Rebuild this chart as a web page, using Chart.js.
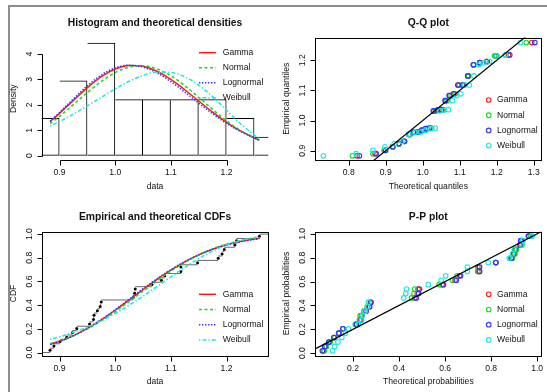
<!DOCTYPE html>
<html><head><meta charset="utf-8">
<script src="https://cdn.jsdelivr.net/npm/chart.js@4.4.0/dist/chart.umd.min.js"></script>
<style>
html,body{margin:0;padding:0;background:#fff;}
#wrap{position:relative;width:547px;height:392px;overflow:hidden;background:#fff;}
#wrap canvas{position:absolute;left:0;top:0;}
#frame{position:absolute;left:8px;top:5px;width:600px;height:420px;border-top:2px solid #8c8c8c;border-left:2px solid #8c8c8c;}
</style></head><body>
<div id="wrap"><div id="frame"></div>
<canvas id="c1" width="547" height="392"></canvas>
<canvas id="c2" width="547" height="392"></canvas>
<canvas id="c3" width="547" height="392"></canvas>
<canvas id="c4" width="547" height="392"></canvas>
</div>
<script>
// ---------- data ----------
const seriesNames = ['Gamma', 'Normal', 'Lognormal', 'Weibull'];
const sortedData = [0.883,0.890,0.901,0.913,0.923,0.931,0.954,0.961,0.962,0.968,0.973,0.975,1.032,1.035,1.036,1.066,1.083,1.089,1.118,1.118,1.148,1.185,1.192,1.196,1.215,1.218,1.259];
const histBreaks = [0.85,0.90,0.95,1.00,1.05,1.10,1.15,1.20,1.25,1.30];
const histDensity = [1.481,2.963,4.444,2.222,2.222,2.222,2.222,1.481,0.741];

const gridX = [0.883,0.900,0.925,0.950,0.975,1.000,1.025,1.050,1.075,1.100,1.125,1.150,1.175,1.200,1.225,1.259];
const densGamma     = [1.339,1.666,2.178,2.678,3.108,3.411,3.553,3.519,3.324,3.000,2.594,2.151,1.713,1.315,0.973,0.610];
const densNormal    = [1.260,1.547,2.008,2.482,2.919,3.269,3.485,3.536,3.417,3.142,2.752,2.294,1.820,1.375,0.989,0.583];
const densLognormal = [1.350,1.698,2.237,2.750,3.174,3.454,3.559,3.486,3.257,2.913,2.501,2.067,1.648,1.271,0.951,0.611];
const densWeibull   = [1.165,1.345,1.638,1.960,2.296,2.628,2.927,3.159,3.287,3.277,3.108,2.780,2.322,1.790,1.258,0.651];

const cdfGamma     = [0.0702,0.0955,0.1432,0.2036,0.2756,0.3570,0.4438,0.5319,0.6173,0.6961,0.7656,0.8246,0.8725,0.9100,0.9383,0.9647];
const cdfNormal    = [0.0753,0.0991,0.1435,0.1996,0.2673,0.3448,0.4296,0.5177,0.6050,0.6872,0.7611,0.8243,0.8757,0.9155,0.9449,0.9712];
const cdfLognormal = [0.0667,0.0926,0.1418,0.2042,0.2785,0.3617,0.4497,0.5381,0.6227,0.7000,0.7678,0.8249,0.8713,0.9077,0.9353,0.9615];
const cdfWeibull   = [0.1115,0.1328,0.1700,0.2149,0.2681,0.3297,0.3993,0.4755,0.5563,0.6387,0.7188,0.7927,0.8567,0.9082,0.9462,0.9781];

const empProb  = [0.019,0.056,0.093,0.130,0.167,0.204,0.241,0.278,0.315,0.352,0.389,0.426,0.463,0.500,0.537,0.574,0.611,0.648,0.685,0.722,0.759,0.796,0.833,0.870,0.907,0.944,0.981];
const stepProb = [0.037,0.074,0.111,0.148,0.185,0.222,0.259,0.296,0.333,0.370,0.407,0.444,0.481,0.519,0.556,0.593,0.630,0.667,0.704,0.741,0.778,0.815,0.852,0.889,0.926,0.963,1.000];

const qqGamma     = [0.8225,0.8710,0.8982,0.9185,0.9354,0.9501,0.9633,0.9757,0.9874,0.9985,1.0094,1.0199,1.0304,1.0409,1.0515,1.0622,1.0731,1.0845,1.0964,1.1089,1.1225,1.1373,1.1541,1.1737,1.1980,1.2316,1.2949];
const qqNormal    = [0.8100,0.8655,0.8957,0.9179,0.9360,0.9517,0.9657,0.9786,0.9907,1.0022,1.0132,1.0239,1.0345,1.0450,1.0555,1.0661,1.0768,1.0878,1.0993,1.1114,1.1243,1.1383,1.1540,1.1721,1.1943,1.2245,1.2800];
const qqLognormal = [0.8288,0.8742,0.9000,0.9194,0.9356,0.9499,0.9627,0.9748,0.9862,0.9972,1.0078,1.0183,1.0287,1.0391,1.0497,1.0604,1.0714,1.0829,1.0949,1.1077,1.1216,1.1368,1.1541,1.1744,1.1998,1.2352,1.3030];
const qqWeibull   = [0.7315,0.8199,0.8655,0.8977,0.9229,0.9442,0.9626,0.9792,0.9942,1.0083,1.0214,1.0340,1.0460,1.0577,1.0691,1.0804,1.0916,1.1029,1.1143,1.1261,1.1383,1.1513,1.1653,1.1811,1.1996,1.2236,1.2645];

const ppGamma     = [0.0702,0.0800,0.0972,0.1188,0.1389,0.1566,0.2144,0.2340,0.2369,0.2545,0.2695,0.2757,0.4685,0.4791,0.4826,0.5871,0.6433,0.6624,0.7472,0.7472,0.8203,0.8887,0.8991,0.9047,0.9280,0.9313,0.9647];
const ppNormal    = [0.0753,0.0845,0.1007,0.1208,0.1395,0.1559,0.2097,0.2280,0.2307,0.2472,0.2615,0.2673,0.4541,0.4647,0.4682,0.5739,0.6320,0.6519,0.7414,0.7414,0.8196,0.8929,0.9039,0.9098,0.9343,0.9376,0.9712];
const ppLognormal = [0.0667,0.0767,0.0943,0.1165,0.1373,0.1556,0.2154,0.2356,0.2386,0.2567,0.2722,0.2785,0.4746,0.4853,0.4888,0.5929,0.6484,0.6671,0.7499,0.7499,0.8207,0.8870,0.8970,0.9025,0.9252,0.9284,0.9615];
const ppWeibull   = [0.1115,0.1199,0.1341,0.1512,0.1667,0.1801,0.2229,0.2373,0.2394,0.2524,0.2636,0.2681,0.4200,0.4290,0.4321,0.5269,0.5827,0.6025,0.6968,0.6968,0.7872,0.8789,0.8932,0.9009,0.9326,0.9369,0.9781];

const ticksDataX = [0.9, 1.0, 1.1, 1.2];
const ticksDensY = [0, 1, 2, 3, 4];
const ticksProbY = [0.0, 0.2, 0.4, 0.6, 0.8, 1.0];
const ticksQQX = [0.8, 0.9, 1.0, 1.1, 1.2, 1.3];
const ticksQQY = [0.9, 1.0, 1.1, 1.2];
const ticksPPX = [0.2, 0.4, 0.6, 0.8, 1.0];

// ---------- styling ----------
const W = 547, H = 392;
const colors = ['#ff1a1a', '#1ad81a', '#3333ff', '#1ae8e8'];
const dashes = [[], [3, 2.5], [1.4, 1.6], [1.4, 2, 4, 2]];
const LW = 1.5;
const FONT = '"Liberation Sans", Arial, Helvetica, sans-serif';
const fmt1 = v => v.toFixed(1);
const fmt0 = v => String(v);

const rAxes = {
  id: 'rAxes',
  afterDraw(chart, args, o) {
    const ctx = chart.ctx, a = chart.chartArea, xs = chart.scales.x, ys = chart.scales.y;
    const px = v => Math.round(v) + 0.5;
    ctx.save();
    ctx.strokeStyle = '#000'; ctx.lineWidth = 1; ctx.setLineDash([]);
    const L = px(a.left), B = px(a.bottom);
    if (o.box) {
      ctx.strokeRect(L, px(a.top), Math.round(a.right) - Math.round(a.left), Math.round(a.bottom) - Math.round(a.top));
    }
    const xp = o.xTicks.map(v => px(xs.getPixelForValue(v)));
    const yp = o.yTicks.map(v => px(ys.getPixelForValue(v)));
    ctx.beginPath();
    if (!o.box) {
      ctx.moveTo(xp[0], B); ctx.lineTo(xp[xp.length - 1], B);
      ctx.moveTo(L, yp[0]); ctx.lineTo(L, yp[yp.length - 1]);
    }
    xp.forEach(p => { ctx.moveTo(p, B); ctx.lineTo(p, B + 5); });
    yp.forEach(p => { ctx.moveTo(L, p); ctx.lineTo(L - 5, p); });
    ctx.stroke();

    ctx.fillStyle = '#111';
    ctx.font = '8.6px ' + FONT;
    ctx.textAlign = 'center'; ctx.textBaseline = 'middle';
    o.xTicks.forEach(v => ctx.fillText(o.xFmt(v), xs.getPixelForValue(v), a.bottom + 13));
    o.yTicks.forEach(v => {
      ctx.save(); ctx.translate(a.left - 12.5, ys.getPixelForValue(v)); ctx.rotate(-Math.PI / 2);
      ctx.fillText(o.yFmt(v), 0, 0); ctx.restore();
    });
    ctx.fillText(o.xlab, (a.left + a.right) / 2, a.bottom + 26.5);
    ctx.save(); ctx.translate(a.left - 28.5, (a.top + a.bottom) / 2); ctx.rotate(-Math.PI / 2);
    ctx.fillText(o.ylab, 0, 0); ctx.restore();

    ctx.font = 'bold 10.3px ' + FONT;
    ctx.fillText(o.title, (a.left + a.right) / 2, o.titleY);

    // legend
    const lg = o.legend;
    ctx.font = '8.6px ' + FONT;
    ctx.textAlign = 'left';
    seriesNames.forEach((nm, k) => {
      const y = lg.y0 + k * lg.dy;
      ctx.strokeStyle = colors[k];
      if (lg.kind === 'line') {
        ctx.lineWidth = LW; ctx.setLineDash(dashes[k]);
        ctx.beginPath(); ctx.moveTo(lg.x1, y); ctx.lineTo(lg.x2, y); ctx.stroke();
        ctx.setLineDash([]);
      } else {
        ctx.lineWidth = 1.1;
        ctx.beginPath(); ctx.arc(lg.cx, y, 2.3, 0, Math.PI * 2); ctx.stroke();
      }
      ctx.fillStyle = '#111';
      ctx.fillText(nm, lg.tx, y);
    });
    ctx.restore();
  }
};

function makeChart(id, type, datasets, xr, yr, area, axes) {
  return new Chart(document.getElementById(id), {
    type: type,
    data: { datasets: datasets },
    options: {
      responsive: false, animation: false, devicePixelRatio: 1, events: [],
      layout: { padding: { left: area[0], top: area[1], right: W - area[2], bottom: H - area[3] } },
      scales: {
        x: { type: 'linear', display: false, min: xr[0], max: xr[1], offset: false },
        y: { type: 'linear', display: false, min: yr[0], max: yr[1] }
      },
      plugins: { legend: { display: false }, tooltip: { enabled: false }, title: { display: false }, rAxes: axes }
    },
    plugins: [rAxes]
  });
}

const leftArea = [41.7, 268.3], rightArea = [315.3, 541.3];
const topArea = [37.5, 160], botArea = [231.5, 355.5];
const dataXR = [0.868, 1.275];

// ---------- panel 1: histogram & densities ----------
const densSeries = [densGamma, densNormal, densLognormal, densWeibull];
const binMid = histDensity.map((d, i) => (histBreaks[i] + histBreaks[i + 1]) / 2);
const ds1 = [{
  type: 'bar', data: binMid.map((m, i) => ({ x: m, y: histDensity[i] })),
  backgroundColor: 'rgba(0,0,0,0)', borderColor: '#000', borderWidth: 1, borderSkipped: 'left',
  barPercentage: 1, categoryPercentage: 1, inflateAmount: 0, order: 10, clip: 0
}].concat(densSeries.map((arr, k) => ({
  type: 'line', label: seriesNames[k], data: gridX.map((x, i) => ({ x: x, y: arr[i] })),
  borderColor: colors[k], borderDash: dashes[k], borderWidth: LW, pointRadius: 0,
  cubicInterpolationMode: 'monotone', fill: false, order: 4 - k
})));
makeChart('c1', 'bar', ds1, dataXR, [-0.17, 4.65],
  [leftArea[0], topArea[0], leftArea[1], topArea[1]],
  { box: false, xTicks: ticksDataX, yTicks: ticksDensY, xFmt: fmt1, yFmt: fmt0,
    xlab: 'data', ylab: 'Density', title: 'Histogram and theoretical densities', titleY: 22.7,
    legend: { kind: 'line', x1: 199, x2: 216, tx: 222.7, y0: 52.7, dy: 15 } });

// ---------- panel 2: Q-Q plot ----------
const qqSeries = [qqGamma, qqNormal, qqLognormal, qqWeibull];
const qqXR = [0.7097, 1.3205], qqYR = [0.869, 1.2757];
const ds2 = qqSeries.map((arr, k) => ({
  label: seriesNames[k], data: arr.map((q, i) => ({ x: q, y: sortedData[i] })),
  pointRadius: 2.3, pointBorderWidth: 1.1, pointBorderColor: colors[k], pointBackgroundColor: 'rgba(0,0,0,0)',
  showLine: false, order: 5 - k
})).concat([{
  data: [{ x: qqXR[0], y: qqXR[0] }, { x: qqXR[1], y: qqXR[1] }],
  showLine: true, borderColor: '#000', borderWidth: 1.2, pointRadius: 0, order: 0, clip: 0
}]);
makeChart('c2', 'scatter', ds2, qqXR, qqYR,
  [rightArea[0], topArea[0], rightArea[1], topArea[1]],
  { box: true, xTicks: ticksQQX, yTicks: ticksQQY, xFmt: fmt1, yFmt: fmt1,
    xlab: 'Theoretical quantiles', ylab: 'Empirical quantiles', title: 'Q-Q plot', titleY: 22.7,
    legend: { kind: 'point', cx: 488.7, tx: 497, y0: 100, dy: 15.2 } });

// ---------- panel 3: empirical and theoretical CDFs ----------
const cdfSeries = [cdfGamma, cdfNormal, cdfLognormal, cdfWeibull];
const n = sortedData.length;
const stepSeg = [{ x: dataXR[0], y: 0 }, { x: sortedData[0], y: 0 }, { x: sortedData[0], y: null }];
sortedData.forEach((x, i) => {
  const x2 = i < n - 1 ? sortedData[i + 1] : dataXR[1];
  stepSeg.push({ x: x, y: stepProb[i] }, { x: x2, y: stepProb[i] }, { x: x2, y: null });
});
const ds3 = [{
  data: stepSeg, showLine: true, spanGaps: false, borderColor: '#6a6a6a', borderWidth: 1, pointRadius: 0, order: 11, clip: 0
}, {
  data: sortedData.map((x, i) => ({ x: x, y: empProb[i] })), showLine: false,
  pointRadius: 1.5, pointBorderWidth: 0, pointBackgroundColor: '#000', order: 10
}].concat(cdfSeries.map((arr, k) => ({
  label: seriesNames[k], data: gridX.map((x, i) => ({ x: x, y: arr[i] })), showLine: true,
  borderColor: colors[k], borderDash: dashes[k], borderWidth: LW, pointRadius: 0,
  cubicInterpolationMode: 'monotone', order: 4 - k
})));
makeChart('c3', 'scatter', ds3, dataXR, [-0.025, 1.022],
  [leftArea[0], botArea[0], leftArea[1], botArea[1]],
  { box: true, xTicks: ticksDataX, yTicks: ticksProbY, xFmt: fmt1, yFmt: fmt1,
    xlab: 'data', ylab: 'CDF', title: 'Empirical and theoretical CDFs', titleY: 216.7,
    legend: { kind: 'line', x1: 199, x2: 216, tx: 222.7, y0: 294.3, dy: 15.2 } });

// ---------- panel 4: P-P plot ----------
const ppSeries = [ppGamma, ppNormal, ppLognormal, ppWeibull];
const ppXR = [0.036, 1.018], ppYR = [-0.02, 1.02];
const ds4 = ppSeries.map((arr, k) => ({
  label: seriesNames[k], data: arr.map((p, i) => ({ x: p, y: empProb[i] })),
  pointRadius: 2.3, pointBorderWidth: 1.1, pointBorderColor: colors[k], pointBackgroundColor: 'rgba(0,0,0,0)',
  showLine: false, order: 5 - k
})).concat([{
  data: [{ x: ppYR[0], y: ppYR[0] }, { x: ppYR[1], y: ppYR[1] }],
  showLine: true, borderColor: '#000', borderWidth: 1.2, pointRadius: 0, order: 0, clip: 0
}]);
makeChart('c4', 'scatter', ds4, ppXR, ppYR,
  [rightArea[0], botArea[0], rightArea[1], botArea[1]],
  { box: true, xTicks: ticksPPX, yTicks: ticksProbY, xFmt: fmt1, yFmt: fmt1,
    xlab: 'Theoretical probabilities', ylab: 'Empirical probabilities', title: 'P-P plot', titleY: 216.7,
    legend: { kind: 'point', cx: 488.7, tx: 497, y0: 294.3, dy: 15.2 } });
</script>
</body></html>
